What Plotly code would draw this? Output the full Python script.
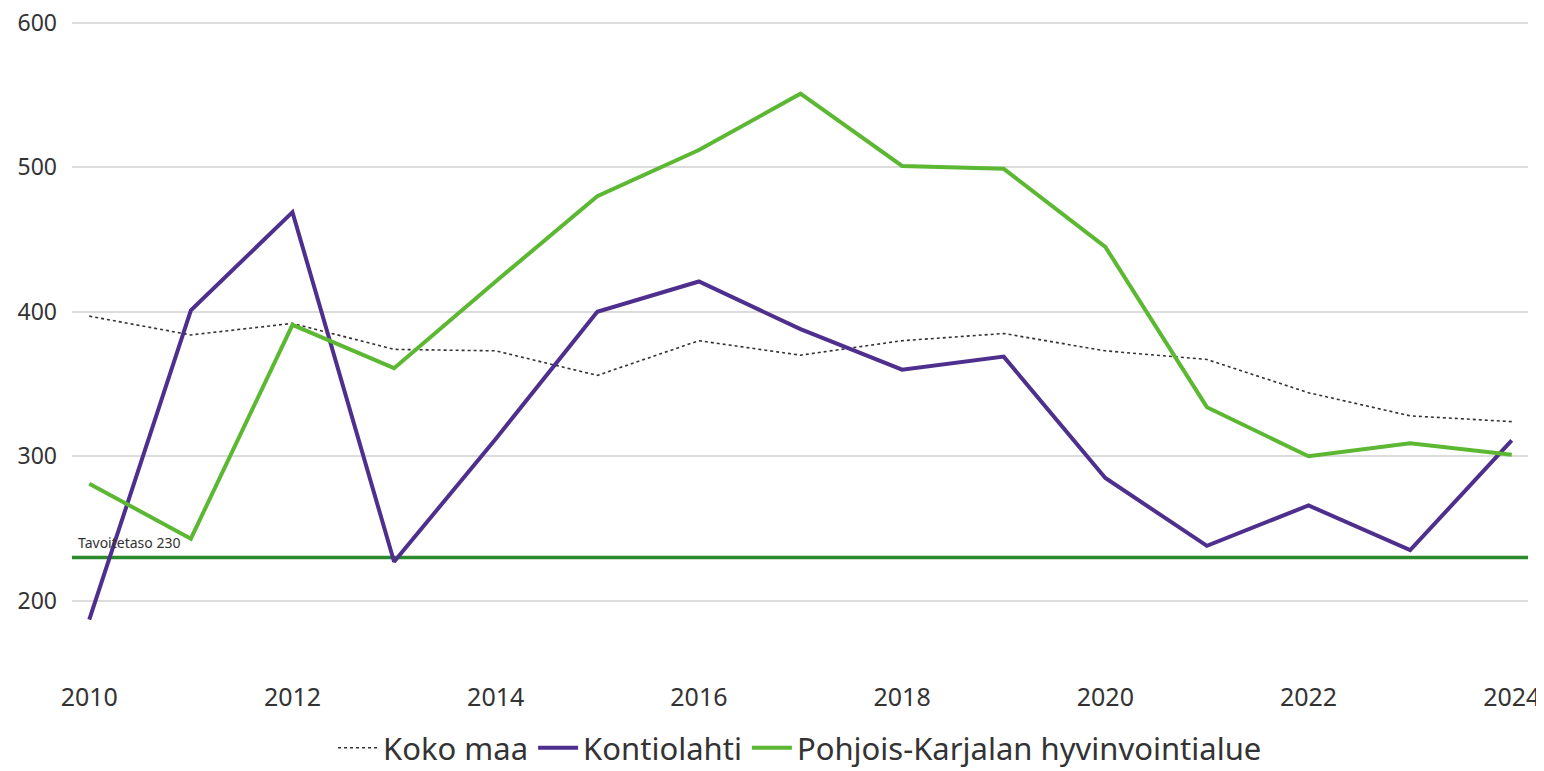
import plotly.graph_objects as go

years = list(range(2010, 2025))
koko_maa = [397, 384, 392, 374, 373, 356, 380, 370, 380, 385, 373, 367, 344, 328, 324]
kontiolahti = [187, 401, 469, 227, 312, 400, 421, 388, 360, 369, 285, 238, 266, 235, 311]
pohjois_karjala = [281, 243, 391, 361, 421, 480, 512, 551, 501, 499, 445, 334, 300, 309, 301]
target_value = 230
target_label = "Tavoitetaso 230"

fig = go.Figure()

# target line
fig.add_trace(go.Scatter(
    x=[2009.83, 2024.16], y=[target_value, target_value], mode="lines",
    line=dict(color="#2b8a2b", width=3.5), showlegend=False, hoverinfo="skip"))

fig.add_trace(go.Scatter(
    x=years, y=koko_maa, mode="lines", name="Koko maa",
    line=dict(color="#333333", width=1.6, dash="dot")))
fig.add_trace(go.Scatter(
    x=years, y=kontiolahti, mode="lines", name="Kontiolahti",
    line=dict(color="#4e2f8e", width=4)))
fig.add_trace(go.Scatter(
    x=years, y=pohjois_karjala, mode="lines", name="Pohjois-Karjalan hyvinvointialue",
    line=dict(color="#5cb833", width=4)))

fig.add_annotation(
    x=2009.87, y=target_value, xref="x", yref="y", text=target_label,
    showarrow=False, xanchor="left", yanchor="bottom", yshift=3,
    font=dict(family="Noto Sans", size=14, color="#333333"))

# page body has an 8px margin, so the figure is drawn 8px smaller
fig.update_layout(
    width=1536, height=763,
    margin=dict(l=64, r=16, t=12, b=98, autoexpand=False),
    paper_bgcolor="white", plot_bgcolor="white",
    font=dict(family="Noto Sans", color="#333333"),
    xaxis=dict(range=[2009.83, 2024.16], tickmode="linear", tick0=2010, dtick=2,
               showgrid=False, zeroline=False, showline=False, automargin=False,
               tickfont=dict(size=25, color="#333333"), ticks="", ticklabelstandoff=7,
               ticklabeloverflow="allow"),
    yaxis=dict(range=[150, 602], tickvals=[200, 300, 400, 500, 600],
               showgrid=True, gridcolor="#dcdcdc", gridwidth=1.5, zeroline=False,
               showline=False, automargin=False, tickfont=dict(size=23, color="#333333"),
               ticks="", ticklabelstandoff=14, ticklabeloverflow="allow"),
    legend=dict(orientation="h", x=0.5, xanchor="center", y=-0.115, yanchor="middle",
                font=dict(size=31, color="#333333"), itemwidth=40,
                bgcolor="rgba(0,0,0,0)"),
    showlegend=True,
)

fig.write_html("out.html")
